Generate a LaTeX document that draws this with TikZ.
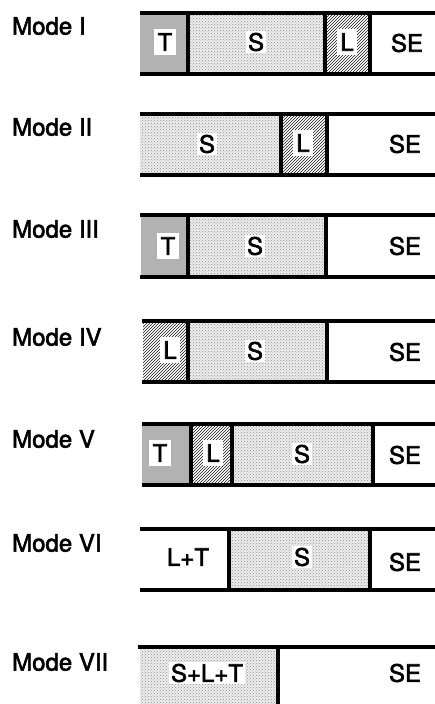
\documentclass[tikz,border=0pt]{standalone}
\usepackage{fontspec}
\setmainfont{TeX Gyre Heros}
\usetikzlibrary{patterns}
\newcommand\embon{\special{pdf:literal direct 2 Tr 0.55 w 0 G}}
\newcommand\emboff{\special{pdf:literal direct 0 Tr}}
\begin{document}
\begin{tikzpicture}[x=1pt,y=-1pt,
  hline/.style={line width=4.2pt},
  vline/.style={line width=3.6pt},
  tfill/.style={fill=gray!60},
  sfill/.style={fill=gray!14, postaction={pattern=crosshatch dots, pattern color=gray!90}},
  lfill/.style={fill=white, postaction={pattern=north east lines, pattern color=black!90}},
  lab/.style={anchor=west, font=\fontsize{24}{28}\selectfont, inner sep=0pt,
    execute at begin node=\embon, execute at end node=\emboff},
  txt/.style={font=\fontsize{24}{28}\selectfont, inner sep=0pt,
    execute at begin node=\embon, execute at end node=\emboff},
  boxed/.style={txt, fill=white, inner xsep=3.5pt, inner ysep=4pt},
  halo/.style={txt, fill=white, inner sep=2pt},
]
\useasboundingbox (0,0) rectangle (435,704);

% ---------- Mode I ----------
\node[lab] (m1) at (12,26) {Mode I};
\fill[tfill] (140,13) rectangle (188,74);
\fill[sfill] (188,13) rectangle (325,74);
\fill[lfill] (325,13) rectangle (370,74);
\draw[vline] (188,13) -- (188,74);
\draw[vline] (325,13) -- (325,74);
\draw[vline] (370,13) -- (370,74);
\draw[hline] (140,13) -- (435,13);
\draw[hline] (140,74) -- (435,74);
\node[boxed] (t1) at (165,42) {T};
\node[halo] (s1) at (256,42) {S};
\node[boxed] (l1) at (347,42) {L};
\node[txt] (se1) at (407,43) {SE};

% ---------- Mode II ----------
\node[lab] (m2) at (12,127) {Mode II};
\fill[sfill] (140,114) rectangle (281,175);
\fill[lfill] (281,114) rectangle (327,175);
\draw[vline] (281,114) -- (281,175);
\draw[vline] (327,114) -- (327,175);
\draw[hline] (140,114) -- (435,114);
\draw[hline] (140,175) -- (435,175);
\node[halo] (s2) at (207,144) {S};
\node[boxed] (l2) at (303,143) {L};
\node[txt] (se2) at (405,144) {SE};

% ---------- Mode III ----------
\node[lab] (m3) at (12,229) {Mode III};
\fill[tfill] (141,215) rectangle (188,277);
\fill[sfill] (188,215) rectangle (326,277);
\draw[vline] (188,215) -- (188,277);
\draw[vline] (326,215) -- (326,277);
\draw[hline] (140,215) -- (435,215);
\draw[hline] (140,277) -- (435,277);
\node[boxed] (t3) at (168,246) {T};
\node[halo] (s3) at (255,246) {S};
\node[txt] (se3) at (405,246) {SE};

% ---------- Mode IV ----------
\node[lab] (m4) at (12,337) {Mode IV};
\fill[lfill] (143,321) rectangle (188,382);
\fill[sfill] (188,321) rectangle (327,382);
\draw[vline] (188,321) -- (188,382);
\draw[vline] (327,321) -- (327,382);
\draw[hline] (142,321) -- (435,321);
\draw[hline] (142,382) -- (435,382);
\node[boxed] (l4) at (170,350) {L};
\node[halo] (s4) at (255,351) {S};
\node[txt] (se4) at (405,352) {SE};

% ---------- Mode V ----------
\node[lab] (m5) at (12,439) {Mode V};
\fill[tfill] (142,424) rectangle (191,485);
\fill[lfill] (191,424) rectangle (232,485);
\fill[sfill] (232,424) rectangle (373,485);
\draw[vline] (191,424) -- (191,485);
\draw[vline] (232,424) -- (232,485);
\draw[vline] (373,424) -- (373,485);
\draw[hline] (142,424) -- (435,424);
\draw[hline] (142,485) -- (435,485);
\node[boxed] (t5) at (160,453) {T};
\node[boxed] (l5) at (213,453) {L};
\node[halo] (s5) at (302,454) {S};
\node[txt] (se5) at (405,455) {SE};

% ---------- Mode VI ----------
\node[lab] (m6) at (12,543) {Mode VI};
\fill[sfill] (229,529) rectangle (370,590);
\draw[vline] (229,529) -- (229,590);
\draw[vline] (370,529) -- (370,590);
\draw[hline] (140,529) -- (435,529);
\draw[hline] (140,590) -- (435,590);
\node[txt] (lt6) at (188,557) {L+T};
\node[halo] (s6) at (302,557) {S};
\node[txt] (se6) at (405,562) {SE};

% ---------- Mode VII ----------
\node[lab] (m7) at (12,662) {Mode VII};
\fill[sfill] (140,647) rectangle (278,704);
\draw[vline] (278,647) -- (278,704);
\draw[hline] (138,647) -- (435,647);
\node[halo] (slt7) at (207,673) {S+L+T};
\node[txt] (se7) at (405,673) {SE};
\end{tikzpicture}
\end{document}
